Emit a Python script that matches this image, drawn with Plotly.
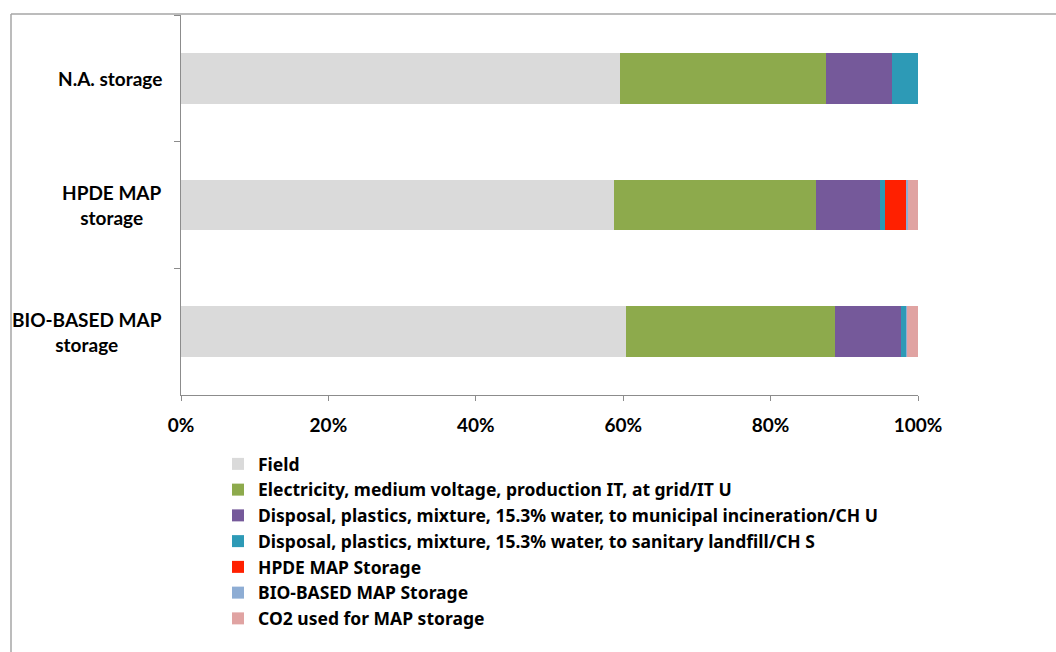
import plotly.graph_objects as go

categories = ["N.A. storage", "HPDE MAP<br>storage", "BIO-BASED MAP<br>storage"]

series_names = [
    "Field",
    "Electricity, medium voltage, production IT, at grid/IT U",
    "Disposal, plastics, mixture, 15.3% water, to municipal incineration/CH U",
    "Disposal, plastics, mixture, 15.3% water, to sanitary landfill/CH S",
    "HPDE MAP Storage",
    "BIO-BASED MAP Storage",
    "CO2 used for MAP storage",
]

field = [59.6, 58.7, 60.4]
electricity = [27.9, 27.4, 28.3]
incineration = [9.0, 8.8, 9.0]
landfill = [3.5, 0.6, 0.7]
hpde = [0.0, 3.0, 0.0]
biobased = [0.0, 0.1, 0.1]
co2 = [0.0, 1.4, 1.5]

series_values = [field, electricity, incineration, landfill, hpde, biobased, co2]
colors = ["#DADADA", "#8DAA4C", "#75599A", "#2D9AB6", "#FF2000", "#8EADD4", "#E0A3A2"]

tick_vals = [0, 20, 40, 60, 80, 100]
tick_text = ["0%", "20%", "40%", "60%", "80%", "100%"]

FONT = "Lato"
FS = 19

fig = go.Figure()
for name, vals, col in zip(series_names, series_values, colors):
    fig.add_trace(go.Bar(
        y=categories, x=vals, name=name, orientation="h",
        marker=dict(color=col, line=dict(width=0)),
    ))

# plot area pixel geometry
W, H = 1056, 652
L, R, T, B = 181, 918, 15, 395
pw, ph = R - L, B - T

def px(x):
    return (x - L) / pw

def py(y):
    return (B - y) / ph

annotations = [
    dict(xref="paper", yref="y", x=px(164), y=cat, text=cat,
         xanchor="right", yanchor="middle", align="center", showarrow=False,
         font=dict(family=FONT, size=FS, color="black", weight="bold"))
    for cat in categories
]

fig.update_layout(
    width=W, height=H,
    margin=dict(l=L, r=W - R, t=T, b=H - B, pad=0, autoexpand=False),
    barmode="stack",
    bargap=0.6,
    plot_bgcolor="white",
    paper_bgcolor="white",
    font=dict(family=FONT, color="black", size=FS),
    showlegend=True,
    legend=dict(
        x=px(218), y=py(446), xanchor="left", yanchor="top",
        traceorder="normal",
        font=dict(family="Noto Sans", size=17.5, color="black", weight="bold"),
        itemwidth=30,
        bgcolor="rgba(0,0,0,0)",
    ),
    xaxis=dict(
        range=[0, 100], tickvals=tick_vals, ticktext=tick_text,
        showgrid=False, zeroline=False,
        showline=True, linecolor="#8C8C8C", linewidth=1,
        ticks="outside", ticklen=5, tickcolor="#8C8C8C",
        tickfont=dict(family=FONT, size=FS, color="black", weight="bold"),
        ticklabelstandoff=8,
        fixedrange=True,
    ),
    yaxis=dict(
        categoryorder="array", categoryarray=categories,
        autorange="reversed",
        showgrid=False, zeroline=False,
        showline=True, linecolor="#8C8C8C", linewidth=1,
        ticks="outside", ticklen=6, tickcolor="#8C8C8C",
        tickson="boundaries",
        showticklabels=False,
        fixedrange=True,
    ),
    annotations=annotations,
    shapes=[
        dict(type="line", xref="paper", yref="paper",
             x0=px(11), x1=px(1060), y0=py(14), y1=py(14),
             line=dict(color="#A6A6A6", width=1.5)),
        dict(type="line", xref="paper", yref="paper",
             x0=px(11), x1=px(11), y0=py(14), y1=py(660),
             line=dict(color="#A6A6A6", width=1.5)),
    ],
)

fig.write_html("out.html")
